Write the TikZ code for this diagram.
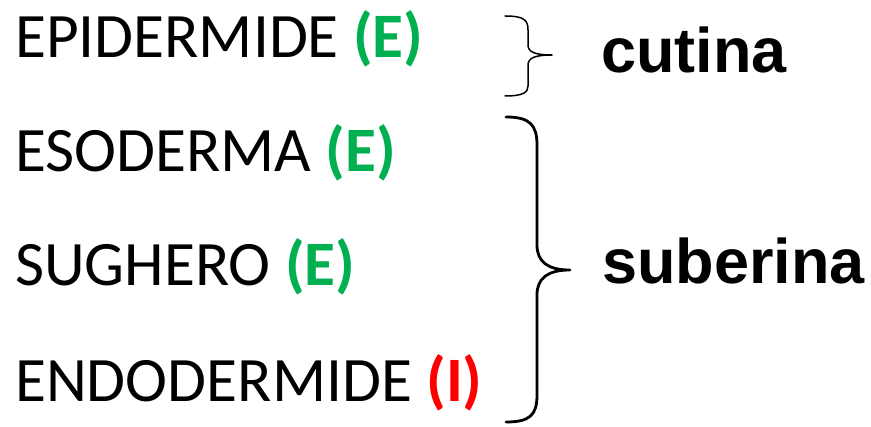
\documentclass[tikz,border=0pt]{standalone}
\usepackage{fontspec}
\setmainfont{Carlito}
\newfontfamily\arialfont{Liberation Sans}
\definecolor{tgreen}{RGB}{0,176,80}
\definecolor{tred}{RGB}{255,0,0}
\begin{document}
\begin{tikzpicture}[x=1pt,y=-1pt,
  item/.style={anchor=base west,inner sep=0pt,font=\fontsize{63.3}{70}\selectfont},
  label/.style={anchor=base west,inner sep=0pt,font=\arialfont\bfseries\fontsize{63}{70}\selectfont},
  bracket/.style={line width=#1,line cap=round,line join=round}]
\useasboundingbox (0,0) rectangle (871,427);
\node[item] (epi) at (15,58) {EPIDERMIDE \textbf{\textcolor{tgreen}{(E)}}};
\node[item] (eso) at (15,172) {ESODERMA \textbf{\textcolor{tgreen}{(E)}}};
\node[item] (sug) at (15,286) {SUGHERO \textbf{\textcolor{tgreen}{(E)}}};
\node[item] (endo) at (15,402) {ENDODERMIDE \textbf{\textcolor{tred}{(I)}}};
\node[label] (cut) at (601,73) {cutina};
\node[label] (sub) at (602,284) {suberina};
\draw[bracket=1.5pt] (505,16) .. controls (524,16) and (528,20) .. (528,30) -- (528,45)
  .. controls (528,52) and (535,55) .. (552,55)
  .. controls (535,55) and (528,58) .. (528,65) -- (528,86)
  .. controls (528,92) and (524,96) .. (505,96);
\draw[bracket=2.8pt] (506,117) .. controls (530,117) and (537,125) .. (537,145) -- (537,245)
  .. controls (537,262) and (548,270) .. (570,270)
  .. controls (548,270) and (537,278) .. (537,295) -- (537,395)
  .. controls (537,415) and (530,422) .. (506,422);
\end{tikzpicture}
\end{document}
